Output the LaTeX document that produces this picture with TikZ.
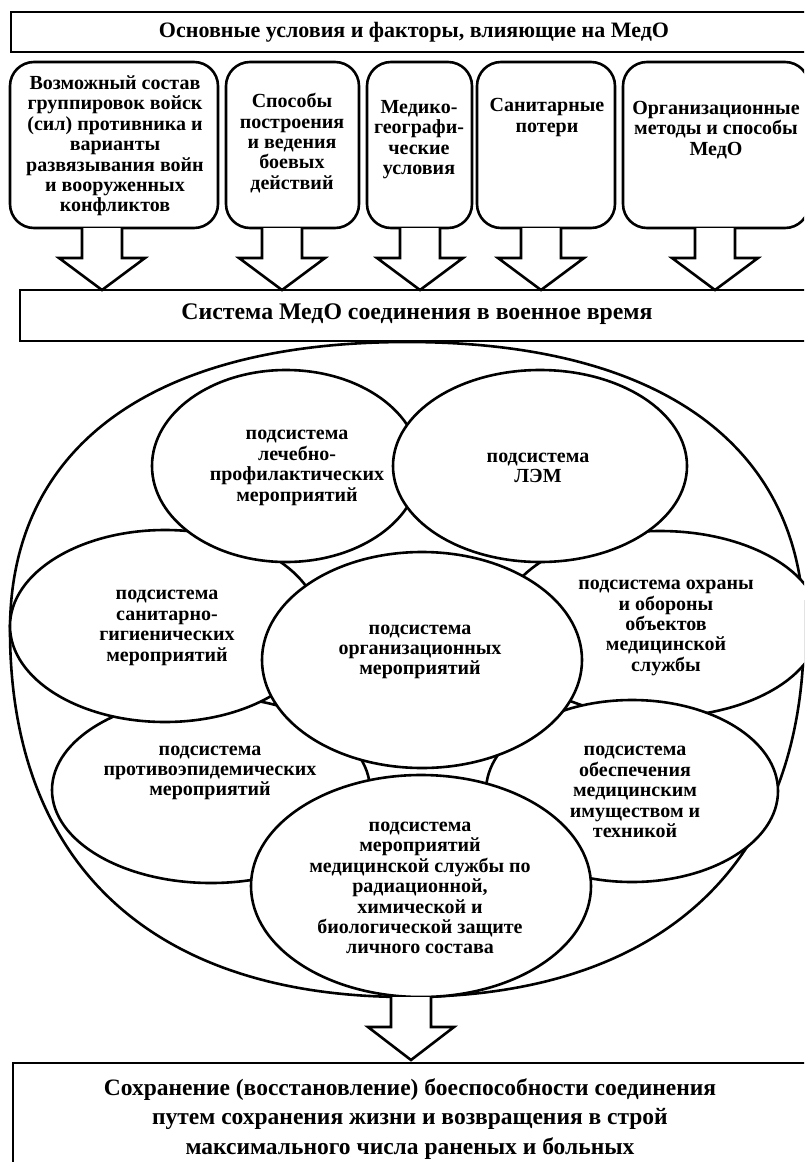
\documentclass[tikz,border=0pt]{standalone}
\usepackage{fontspec}
\setmainfont{Liberation Serif}
\usetikzlibrary{shapes.geometric}
\begin{document}
\begin{tikzpicture}[x=1pt,y=-1pt,
  every node/.style={font=\bfseries\fontsize{20}{20.4}\selectfont},
  lw/.style={line width=2.6pt},
  hbox/.style={draw, lw, rectangle, inner sep=0},
  rbox/.style={draw, lw, rectangle, rounded corners=24pt, inner sep=0},
  sub/.style={draw, lw, fill=white, ellipse, inner sep=0},
  txt/.style={align=center, inner sep=0},
  headtxt/.style={align=center, inner sep=0, font=\bfseries\fontsize{22}{24}\selectfont},
  systxt/.style={align=center, inner sep=0, font=\bfseries\fontsize{23.8}{26}\selectfont},
  bigtxt/.style={align=center, inner sep=0, font=\bfseries\fontsize{23.5}{29.5}\selectfont},
  pics/barrow/.style={code={
    \draw[lw, fill=white, line join=miter] (-20,0) -- (-20,30) -- (-43,30) -- (0,#1) -- (43,30) -- (20,30) -- (20,0);
  }}]
\useasboundingbox (0,0) rectangle (804,1162);
\clip (0,0) rectangle (804,1162);
\fill[white] (0,0) rectangle (804,1162);

% title
\node[hbox, minimum width=809pt, minimum height=40pt] (title) at (415.5,32) {};
\node[headtxt] (titlet) at (414,32) {Основные условия и факторы, влияющие на МедО};

% factor boxes
\node[rbox, minimum width=208pt, minimum height=166pt] (b1) at (114,145) {};
\node[rbox, minimum width=133pt, minimum height=166pt] (b2) at (292.5,145) {};
\node[rbox, minimum width=105pt, minimum height=166pt] (b3) at (419.5,145) {};
\node[rbox, minimum width=138pt, minimum height=166pt] (b4) at (546,145) {};
\node[rbox, minimum width=186pt, minimum height=166pt] (b5) at (716,145) {};
\node[txt] (b1t) at (115,146) {Возможный состав\\группировок войск\\(сил) противника и\\варианты\\развязывания войн\\и вооруженных\\конфликтов};
\node[txt] (b2t) at (292,143) {Способы\\построения\\и ведения\\боевых\\действий};
\node[txt] (b3t) at (419,139.5) {Медико-\\географи-\\ческие\\условия};
\node[txt] (b4t) at (547,117.5) {Санитарные\\потери};
\node[txt] (b5t) at (716,130) {Организационные\\методы и способы\\МедО};

% arrows
\pic at (102,228) {barrow=62};
\pic at (282,228) {barrow=62};
\pic at (420,228) {barrow=62};
\pic at (541,228) {barrow=62};
\pic at (715,228) {barrow=62};

% system box
\node[hbox, minimum width=800pt, minimum height=51pt] (sys) at (420,315.5) {};
\node[systxt] (syst) at (417,314) {Система МедО соединения в военное время};

% outer egg
\draw[lw, fill=white] (407,342) .. controls (153,342) and (10,446) .. (10,630)
  .. controls (10,865) and (153,997) .. (407,997)
  .. controls (661,997) and (804,865) .. (804,630)
  .. controls (804,446) and (661,342) .. cycle;

% subsystems (order matters)
\node[sub, minimum width=318pt, minimum height=186pt] (e6) at (211,790) {};
\node[sub, minimum width=310pt, minimum height=192pt] (e3) at (165,626) {};
\node[sub, minimum width=268pt, minimum height=192pt] (e1) at (286,466) {};
\node[sub, minimum width=320pt, minimum height=186pt] (e5) at (660,624) {};
\node[sub, minimum width=294pt, minimum height=192pt] (e2) at (540,466) {};
\node[sub, minimum width=292pt, minimum height=182pt] (e7) at (632,791) {};
\node[sub, minimum width=320pt, minimum height=216pt] (e4) at (422,660) {};
\node[sub, minimum width=340pt, minimum height=222pt] (e8) at (421,886) {};

\node[txt] (e1t) at (297,468) {подсистема\\лечебно-\\профилактических\\мероприятий};
\node[txt] (e2t) at (538,468) {подсистема\\ЛЭМ};
\node[txt] (e3t) at (167,628) {подсистема\\санитарно-\\гигиенических\\мероприятий};
\node[txt] (e4t) at (420,652) {подсистема\\организационных\\мероприятий};
\node[txt] (e5t) at (666,628) {подсистема охраны\\и обороны\\объектов\\медицинской\\службы};
\node[txt] (e6t) at (210,773) {подсистема\\противоэпидемических\\мероприятий};
\node[txt] (e7t) at (635,792) {подсистема\\обеспечения\\медицинским\\имуществом и\\техникой};
\node[txt] (e8t) at (420,888) {подсистема\\мероприятий\\медицинской службы по\\радиационной,\\химической и\\биологической защите\\личного состава};

% bottom arrow
\pic at (411,997) {barrow=63};

% result box
\node[hbox, minimum width=807pt, minimum height=150pt] (res) at (416.5,1138) {};
\node[bigtxt] (rest) at (410,1119) {Сохранение (восстановление) боеспособности соединения\\путем сохранения жизни и возвращения в строй\\максимального числа раненых и больных};
\end{tikzpicture}
\end{document}
